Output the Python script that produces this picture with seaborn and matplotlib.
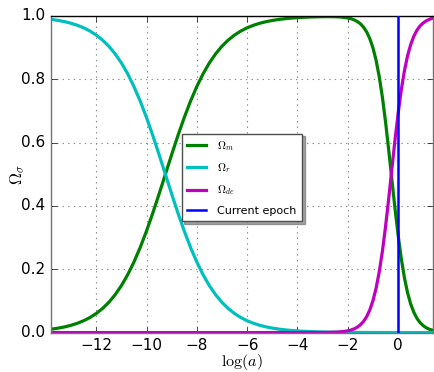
import matplotlib
matplotlib.use("Agg")
import matplotlib.pyplot as plt
from matplotlib.lines import Line2D
import seaborn as sns
import pandas as pd

# log(a) sample positions
log_a = [-13.8, -13.5, -13.25, -13.0, -12.75, -12.5, -12.25, -12.0, -11.75, -11.5,
         -11.25, -11.0, -10.75, -10.5, -10.25, -10.0, -9.75, -9.5, -9.25, -9.0,
         -8.75, -8.5, -8.25, -8.0, -7.75, -7.5, -7.25, -7.0, -6.75, -6.5,
         -6.25, -6.0, -5.75, -5.5, -5.25, -5.0, -4.75, -4.5, -4.25, -4.0,
         -3.75, -3.5, -3.25, -3.0, -2.75, -2.5, -2.25, -2.0, -1.875, -1.75,
         -1.625, -1.5, -1.375, -1.25, -1.125, -1.0, -0.875, -0.75, -0.625, -0.5,
         -0.375, -0.25, -0.125, 0.0, 0.125, 0.25, 0.375, 0.5, 0.625, 0.75,
         0.875, 1.0, 1.125, 1.25, 1.38]

omega_m = [0.0105, 0.0141, 0.018, 0.023, 0.0293, 0.0373, 0.0474, 0.0601, 0.0759, 0.0953,
           0.1192, 0.148, 0.1824, 0.2227, 0.2689, 0.3208, 0.3775, 0.4378, 0.5, 0.5622,
           0.6225, 0.6792, 0.7311, 0.7773, 0.8176, 0.852, 0.8808, 0.9047, 0.9241, 0.9399,
           0.9526, 0.9627, 0.9707, 0.977, 0.982, 0.9859, 0.989, 0.9914, 0.9933, 0.9948,
           0.9959, 0.9967, 0.9973, 0.9978, 0.9979, 0.9976, 0.9965, 0.9938, 0.9914, 0.9878,
           0.9827, 0.9756, 0.9648, 0.9498, 0.9285, 0.8994, 0.86, 0.8085, 0.7437, 0.6659,
           0.5781, 0.485, 0.3929, 0.308, 0.2341, 0.1736, 0.1262, 0.0903, 0.0639, 0.0448,
           0.0312, 0.0217, 0.015, 0.0103, 0.007]

omega_r = [0.9895, 0.9859, 0.982, 0.977, 0.9707, 0.9627, 0.9526, 0.9399, 0.9241, 0.9047,
           0.8808, 0.852, 0.8176, 0.7773, 0.7311, 0.6792, 0.6225, 0.5622, 0.5, 0.4378,
           0.3775, 0.3208, 0.2689, 0.2227, 0.1824, 0.148, 0.1192, 0.0953, 0.0759, 0.0601,
           0.0474, 0.0373, 0.0293, 0.023, 0.018, 0.0141, 0.011, 0.0086, 0.0067, 0.0052,
           0.0041, 0.0032, 0.0025, 0.0019, 0.0015, 0.0012, 0.0009, 0.0007, 0.0006, 0.0005,
           0.0004, 0.0004, 0.0003, 0.0003, 0.0002, 0.0002, 0.0002, 0.0001, 0.0001, 0.0001,
           0.0001, 0.0001, 0.0, 0.0, 0.0, 0.0, 0.0, 0.0, 0.0, 0.0,
           0.0, 0.0, 0.0, 0.0, 0.0]

omega_de = [0.0, 0.0, 0.0, 0.0, 0.0, 0.0, 0.0, 0.0, 0.0, 0.0,
            0.0, 0.0, 0.0, 0.0, 0.0, 0.0, 0.0, 0.0, 0.0, 0.0,
            0.0, 0.0, 0.0, 0.0, 0.0, 0.0, 0.0, 0.0, 0.0, 0.0,
            0.0, 0.0, 0.0, 0.0, 0.0, 0.0, 0.0, 0.0, 0.0, 0.0,
            0.0, 0.0001, 0.0001, 0.0003, 0.0006, 0.0012, 0.0026, 0.0055, 0.008, 0.0117,
            0.0169, 0.0244, 0.0351, 0.0502, 0.0714, 0.1006, 0.14, 0.1915, 0.2563, 0.3341,
            0.4219, 0.515, 0.6071, 0.692, 0.7659, 0.8264, 0.8738, 0.9097, 0.9361, 0.9552,
            0.9688, 0.9783, 0.985, 0.9897, 0.993]

current_epoch = 0.0

x_ticks = [-12, -10, -8, -6, -4, -2, 0]
y_ticks = [0.0, 0.2, 0.4, 0.6, 0.8, 1.0]

plt.style.use("classic")
plt.rcParams["mathtext.fontset"] = "cm"
plt.rcParams["font.family"] = ["DejaVu Sans"]

df = pd.DataFrame({"log_a": log_a, "m": omega_m, "r": omega_r, "de": omega_de})

c_m, c_r, c_de, c_ep = (0, 0.5, 0), (0, 0.75, 0.75), (0.75, 0, 0.75), (0, 0, 1)

fig = plt.figure(figsize=(4.35, 3.72), dpi=100, facecolor="white")
ax = fig.add_axes([0.117, 0.106, 0.878, 0.851])
ax.set_facecolor("white")
ax.set_axisbelow(True)

sns.lineplot(data=df, x="log_a", y="m", ax=ax, color=c_m, lw=2.3, legend=False)
sns.lineplot(data=df, x="log_a", y="r", ax=ax, color=c_r, lw=2.3, legend=False)
sns.lineplot(data=df, x="log_a", y="de", ax=ax, color=c_de, lw=2.3, legend=False)
ax.axvline(current_epoch, color=c_ep, lw=1.8, zorder=3)

ax.set_xlim(log_a[0], log_a[-1])
ax.set_ylim(0, 1)
ax.set_xticks(x_ticks)
ax.set_yticks(y_ticks)
ax.set_xticklabels([f"\u2212{abs(t)}" if t < 0 else str(t) for t in x_ticks])
ax.set_yticklabels([f"{t:.1f}" for t in y_ticks])
ax.tick_params(labelsize=11)
ax.grid(True, linestyle=":", color="0.55", linewidth=0.8)
for side in ("left", "right", "bottom"):
    ax.spines[side].set_color("0.45")
ax.set_xlabel(r"$\log(a)$", fontsize=11.5)
ax.set_ylabel(r"$\Omega_\sigma$", fontsize=12)
ax.xaxis.set_label_coords(0.5, -0.062)
ax.yaxis.set_label_coords(-0.062, 0.5)

handles = [Line2D([], [], color=c, lw=2.3) for c in (c_m, c_r, c_de)]
handles.append(Line2D([], [], color=c_ep, lw=1.8))
labels = [r"$\Omega_m$", r"$\Omega_r$", r"$\Omega_{de}$", "Current epoch"]
leg = ax.legend(handles, labels, loc="center", shadow=True, fontsize=8,
                numpoints=1, handlelength=1.7, handletextpad=1.0,
                borderpad=0.5, labelspacing=0.75, bbox_to_anchor=(0.5, 0.49))
leg.get_frame().set_edgecolor("0.3")

fig.savefig("out.png", dpi=100, facecolor="white")
